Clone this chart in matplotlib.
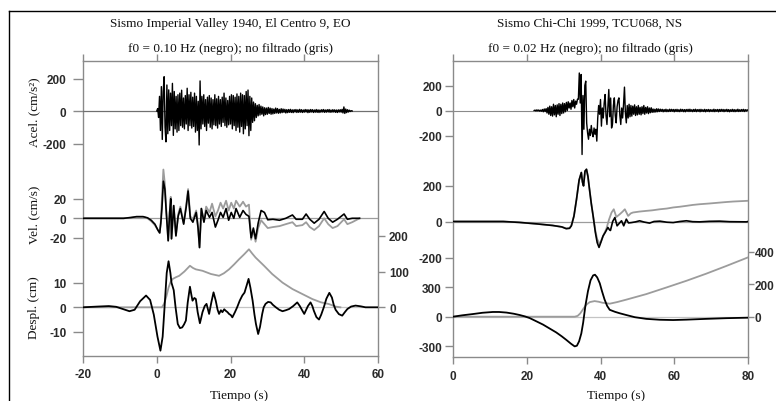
import matplotlib.pyplot as plt
from matplotlib.lines import Line2D
import numpy as np

plt.rcParams['axes.unicode_minus'] = False
plt.rcParams['font.family'] = 'Liberation Sans'

# ---------------- data: Imperial Valley 1940, El Centro 9, EO ----------------
# acceleration (cm/s2), samples every 0.25 s starting at t = 0 s
iv_acc_t0, iv_acc_dt = 0.0, 0.25
iv_acc = [
    0, 15, -40, 90, -120, 150, -175, 120,
    211, -100, -190, 160, -140, 130, -120, 110,
    -90, 170, -150, 120, -110, 90, -130, 100,
    -120, 110, -90, 128, -100, 80, -110, 95,
    -80, 140, -120, 100, -90, 115, -105, 85,
    -95, 110, -130, 90, -120, 60, -209, 185,
    -110, 90, -80, 100, -95, 70, -120, 85,
    -75, 95, -100, 80, -110, 70, -85, 100,
    -90, 75, -105, 90, -80, 70, -95, 85,
    -70, 110, -90, 80, -100, 65, -85, 90,
    -80, 100, -110, 95, -90, 85, -120, 105,
    -100, 90, -130, 110, -95, 100, -140, 95,
    -110, 120, -90, 129, -152, 90, -120, 80,
    -70, 55, -60, 45, -40, 35, -30, 40,
    -25, 30, -20, 25, -30, 20, -22, 18,
    -20, 22, -15, 18, -20, 15, -18, 12,
    -15, 18, -12, 15, -14, 10, -12, 14,
    -10, 12, -8, 10, -12, 8, -10, 9,
    -8, 10, -9, 7, -10, 8, -6, 9,
    -9, 7, -8, 10, -7, 8, -9, 6,
    -7, 9, -6, 8, -10, 7, -8, 9,
    -6, 8, -9, 6, -7, 9, -8, 7,
    -9, 6, -7, 8, -6, 9, -8, 6,
    -7, 8, -6, 9, -8, 6, -7, 8,
    -6, 7, -8, 6, -9, 7, -6, 8,
    -7, 10, -12, 25, -15, 12, -10, 8,
    -6, 5, -3, 2, 0,
]

# velocity (cm/s): filtered (black) and unfiltered (grey)
iv_vel_t = [-20, -9, -7, -5.5, -3.7, -2.5, -1.5, -0.5, 0.3, 0.8, 1.1, 1.4, 1.8,
            2.2, 2.6, 3.1, 3.5, 3.8, 4.0, 4.6, 5.2, 5.8, 6.4, 7.3, 8.0, 8.5,
            9.1, 9.8, 10.7, 11.2, 11.6, 12.1, 12.8, 13.4, 14.3, 15.0, 15.9,
            16.6, 17.3, 18.0, 18.8, 19.5, 20.2, 20.9, 21.5, 22.5, 23.4, 24.2,
            25.0, 25.6, 26.2, 26.8, 27.5, 28.3, 29.2, 30.1, 31.5, 33.3, 35.0,
            36.8, 37.8, 39.5, 40.5, 41.5, 42.7, 44.0, 45.4, 46.5, 47.7, 49.0,
            50.8, 51.7, 53.0, 55.0]
iv_vel_black = [0, 0, 0.8, 1.7, 1.7, 0.5, -2, -6, -12, -15, -5, 10, 38,
                30, 5, -23, 6, 20, -21, 13, -18, 2, 10, -6, 12, 28,
                0, -4, 6, -10, -30, 10, -4, 8, 1, 6, -9,
                -2, 6, 1, 10, -2, 6, 0, 10, 1, 8, 4,
                2, -20, -10, -21, -5, 8, 6, -1.5, -1, -2, 0,
                3.4, -1, -1, 4.4, -1, -5, -1, 7, 0, -4, -1,
                4.4, -1, 0, 0]
iv_vel_grey = [0, 0, 0.7, 1.5, 1.5, 0, -3, -7, -12, -15, -3, 20, 50,
               35, 8, -23, 5, 22, -21, 13, -18, 4, 12, -5, 14, 30,
               2, -1, 8, -8, -30, 10, -3, 12, 6, 15, 2,
               8, 16, 10, 18, 8, 16, 10, 18, 12, 17, 12,
               14, -22, -12, -24, -10, -2, -6, -10, -9, -8, -6,
               -4, -8, -7, -4, -9, -12, -8, 0, -6, -10, -8,
               -1, -6, -4, 0]

# displacement (cm): filtered (black, left scale)
iv_dis_t = [-20, -16, -13, -11, -9, -7.4, -6, -4.5, -2.9, -1.8, -0.8, 0.2, 1.0,
            1.6, 2.2, 2.7, 3.2, 3.7, 4.0, 4.3, 4.6, 5.1, 5.7, 6.3, 6.9, 7.4,
            7.9, 8.4, 9.0, 9.4, 9.7, 10.2, 10.6, 11.1, 11.7, 12.1, 12.4, 13.0,
            13.5, 14.2, 14.8, 15.4, 16.0, 16.5, 16.9, 17.4, 17.8, 18.3, 18.7,
            19.2, 19.6, 20.1, 20.5, 21.2, 21.8, 22.5, 23.2, 23.8, 24.4, 24.9,
            25.4, 26.0, 26.5, 26.9, 27.5, 28.0, 28.6, 29.0, 29.5, 30.2, 30.9,
            31.5, 32.3, 33.2, 34.1, 35.0, 35.9, 37.0, 38.1, 38.8, 39.5, 40.0,
            40.4, 41.0, 41.7, 42.2, 42.6, 43.3, 44.0, 44.6, 45.3, 46.0, 46.8,
            47.5, 48.0, 48.5, 49.4, 50.3, 51.0, 51.7, 52.7, 53.9, 55.3, 56.6,
            60.0]
iv_dis_black = [0, 0.3, 0.5, 0.2, -0.8, -1.6, -1, 2.5, 4.8, 3, -3, -12, -17.7,
                -12, 2, 14, 18.8, 14, 10, 8.5, 7, 0, -6.8, -8.5, -8.2, -7,
                -5.4, 2, 8.4, 5, 2.7, 3.8, 3.4, -2, -6.5, -4, -2, 0.5,
                1.4, -2.7, 2, 6.1, 2.7, -1, -2.7, -1.2, -2, -0.8, -1.4,
                -2, -2.7, -3.2, -4.1, -2, 0, 2.7, 4.8, 6, 9, 11.6,
                8, 2.7, -3, -6.8, -10.9, -8, -2.7, 0, 1.4, 2.2, 2,
                1, 0, -1, -1.6, -1.2, -0.7, 0.5, 2, 0.5, -1.4, -2.7,
                -1.4, 0.5, 2, 0.5, -1.4, -4, -5, -3, 0, 3.5, 5.9,
                4, 1, -1, -2.8, -3.4, -2, -0.7, 0.3, 0.7, 0.4, 0,
                0]
# displacement (cm): unfiltered (grey, right scale)
iv_disg_t = [-20, 1.4, 2.0, 2.6, 3.2, 3.8, 4.3, 5.2, 6.1, 7.5, 9.0, 9.8, 10.6,
             12.4, 14.7, 16.9, 18.2, 19.6, 21.0, 22.3, 23.7, 25.0, 25.9, 26.8,
             29.1, 31.3, 34.1, 36.8, 39.5, 42.2, 44.5, 46.7, 48.5, 49.8]
iv_disg = [0, 0, 10, 30, 55, 72, 79, 84, 88, 100, 116, 110, 106,
           102, 93, 88, 95, 106, 120, 134, 148, 162, 150, 139,
           116, 93, 69, 51, 37, 23, 14, 9, 2, 0]

# ---------------- data: Chi-Chi 1999, TCU068, NS ----------------
# acceleration (cm/s2), samples every 0.25 s starting at t = 22 s
cc_acc_t0, cc_acc_dt = 22.0, 0.25
cc_acc = [
    0, 3, -4, 5, -3, 4, -5, 3,
    -6, 8, -10, 12, -8, 15, -20, 25,
    -30, 35, -40, 30, -45, 50, -35, 40,
    -50, 45, -30, 55, -40, 50, -25, 60,
    -20, 55, -10, 65, 0, 70, 20, 60,
    10, 80, 30, 88, 20, 75, 50, 90,
    90, 300, 60, 288, -352, 120, -150, 200,
    235, -100, -180, -230, -150, -200, -120, -180,
    -210, -140, -190, -150, -245, -60, 40, -30,
    88, -125, 20, -60, 60, 128, -40, -112,
    30, 168, -50, 100, -140, -110, 40, 101,
    -40, -99, 30, 80, 101, -40, -112, 20,
    -60, 50, 187, -20, -99, 40, -60, 50,
    -50, 40, -45, 35, -30, 45, -40, 30,
    -35, 40, -30, 25, -35, 30, -25, 40,
    -30, 25, -20, 30, -25, 20, -18, 22,
    -15, 12, -14, 10, -12, 14, -10, 12,
    -8, 10, -6, 9, -10, 7, -8, 10,
    -9, 6, -8, 10, -7, 9, -6, 8,
    -10, 8, -7, 9, -8, 6, -9, 10,
    -6, 8, -9, 7, -10, 8, -6, 9,
    -8, 10, -7, 6, -9, 8, -7, 10,
    -9, 7, -6, 8, -10, 9, -7, 6,
    -8, 9, -10, 7, -6, 8, -9, 7,
    -7, 6, -8, 10, -9, 7, -6, 8,
    -10, 8, -7, 9, -6, 8, -9, 7,
    -6, 9, -8, 7, -10, 6, -7, 9,
    -8, 7, -9, 6, -7, 10, -8, 6,
    -7, 8, -6, 9, -8, 7, -5, 6,
    0,
]

# velocity (cm/s)
cc_vel_t = [0, 13.6, 18.0, 22.6, 27.0, 29.5, 30.7, 31.6, 32.1, 32.8, 33.5, 34.2,
            34.8, 35.1, 35.4, 35.8, 36.2, 36.6, 36.9, 37.5, 38.0, 38.6, 39.1,
            39.6, 40.2, 40.7, 41.3, 42.0, 42.4, 42.7, 43.3, 43.9, 44.5, 45.1,
            45.7, 46.3, 47.0, 47.6, 48.4, 49.5, 50.6, 51.8, 53.3, 54.5, 56.1,
            58.0, 59.7, 61.5, 63.3, 65.0, 66.9, 69.5, 72.3, 75.0, 79.6, 80.0]
cc_vel_black = [0, 0, -5, -13, -22, -30, -40, -38, -24, 30, 124, 230,
                272, 220, 198, 280, 290, 250, 198, 100, 31, -60, -117,
                -144, -110, -80, -60, -33, -45, -50, 0, 22, -24, -10,
                4, -24, 13, -8, -6, -2, 4, -3, -9, 0, 2,
                -4, -6, 0, 4, -1, -2, 1, 2, -1, -2, 0]
cc_vel_grey_t = [0, 13.6, 18.0, 22.6, 27.0, 29.5, 30.7, 31.6, 32.1, 32.8, 33.5,
                 34.2, 34.8, 35.1, 35.4, 35.8, 36.2, 36.6, 36.9, 37.5, 38.0,
                 38.6, 39.1, 39.8, 40.5, 41.6, 42.3, 43.0, 43.6, 44.3, 45.2,
                 46.0, 46.6, 47.5, 48.2, 48.8, 50.5, 52.4, 54.0, 56.1, 58.0,
                 59.7, 61.5, 63.3, 65.0, 66.9, 69.5, 72.3, 74.0, 76.0, 78.0,
                 80.0]
cc_vel_grey = [0, 0, -5, -13, -22, -30, -38, -36, -22, 30, 124,
               230, 272, 220, 198, 280, 290, 250, 198, 100, 31,
               -50, -98, -126, -90, -40, 10, 50, 68, 25, 40,
               55, 68, 31, 45, 50, 55, 59, 62, 68, 72,
               78, 82, 87, 92, 96, 100, 105, 108, 111, 113,
               115]

# displacement (cm): filtered (black, left scale)
cc_dis_t = [0, 2.5, 5.4, 8.0, 10.8, 12.5, 14.5, 16.5, 18.1, 19.5, 20.8, 22.5,
            24.4, 26.2, 28.0, 29.5, 30.7, 32.0, 33.0, 33.6, 34.2, 34.8, 35.3,
            35.9, 36.6, 37.3, 38.0, 38.5, 39.1, 39.8, 40.4, 41.1, 41.8, 42.5,
            43.2, 43.9, 45.2, 47.0, 49.3, 52.4, 56.1, 59.7, 63.3, 68.7, 74.1,
            80.0]
cc_dis_black = [0, 14, 27, 40, 48, 48, 42, 30, 17, 3, -14, -45,
                -80, -120, -160, -200, -235, -275, -302, -295, -250, -170, -60,
                110, 260, 370, 420, 427, 400, 340, 260, 175, 110, 70,
                60, 50, 35, 17, -5, -22, -31, -34, -30, -22, -15,
                -10]
# displacement (cm): unfiltered (grey, right scale)
cc_disg_t = [0, 33.0, 33.8, 34.5, 35.3, 36.2, 37.1, 38.4, 39.5, 40.5, 42.5, 44.5,
             47.0, 52.4, 57.9, 63.3, 68.7, 74.1, 80.0]
cc_disg = [0, 0, 5, 20, 47, 75, 90, 96, 92, 86, 80, 90,
           105, 139, 180, 221, 265, 312, 365]

# ---------------- layout ----------------
W, H = 776, 402
SPINE = '#8a8a8a'
GREY = '#9c9c9c'
LABC = '#2a2a2a'
SERIF = 'Liberation Serif'

fig = plt.figure(figsize=(W / 100, H / 100), dpi=100)


def add_box(box):
    x0, x1, ytop, ybot = box
    return fig.add_axes([x0 / W, 1 - ybot / H, (x1 - x0) / W, (ybot - ytop) / H])


def frame(box, xlim, xticks):
    ax = add_box(box)
    ax.set_xlim(xlim)
    ax.set_xticks(xticks)
    ax.set_yticks([])
    for s in ax.spines.values():
        s.set_color(SPINE)
        s.set_linewidth(1.0)
    ax.tick_params(axis='x', top=True, direction='out', length=5, width=1,
                   color=SPINE, pad=4, labelsize=8.5, labelcolor=LABC)
    for lab in ax.get_xticklabels():
        lab.set_fontweight('bold')
    return ax


def trace_axes(box, xlim, zero_px, per_px, yticks, side='left', length=5, pad=3):
    x0, x1, ytop, ybot = box
    ax = add_box(box)
    ax.set_xlim(xlim)
    ax.set_ylim(-(ybot - zero_px) * per_px, (zero_px - ytop) * per_px)
    ax.patch.set_visible(False)
    for s in ax.spines.values():
        s.set_visible(False)
    ax.set_xticks([])
    ax.set_yticks(yticks)
    if side == 'right':
        ax.yaxis.tick_right()
    ax.tick_params(axis='y', direction='out', length=length, width=1, color=SPINE,
                   pad=pad, labelsize=8.5, labelcolor=LABC)
    for lab in ax.get_yticklabels():
        lab.set_fontweight('bold')
    return ax


# ---- left panel ----
LB = (83, 378, 62, 357)
frame(LB, (-20, 60), [-20, 0, 20, 40, 60])

ax = trace_axes(LB, (-20, 60), 112, 200 / 32.5, [-200, 0, 200], length=7, pad=5)
ax.axhline(0, color='#707070', lw=0.9)
t = iv_acc_t0 + iv_acc_dt * np.arange(len(iv_acc))
ax.plot(t, iv_acc, color='black', lw=1.0)

ax = trace_axes(LB, (-20, 60), 219.3, 20 / 19.5, [-20, 0, 20], length=7, pad=5)
ax.axhline(0, color=GREY, lw=0.9)
ax.plot(iv_vel_t, iv_vel_grey, color=GREY, lw=1.3)
ax.plot(iv_vel_t, iv_vel_black, color='black', lw=1.2)

ax = trace_axes(LB, (-20, 60), 308.3, 100 / 35.8, [0, 100, 200], side='right', length=5, pad=3)
ax.axhline(0, color='#c4c4c4', lw=0.9)
ax.plot(iv_disg_t, iv_disg, color=GREY, lw=1.3)

ax = trace_axes(LB, (-20, 60), 308.3, 10 / 24.5, [-10, 0, 10], length=7, pad=5)
ax.plot(iv_dis_t, iv_dis_black, color='black', lw=1.3)

# ---- right panel ----
RB = (453, 748, 62, 358)
frame(RB, (0, 80), [0, 20, 40, 60, 80])

ax = trace_axes(RB, (0, 80), 111.5, 200 / 25.0, [-200, 0, 200], length=6, pad=2)
ax.axhline(0, color='#8a8a8a', lw=0.8)
t = cc_acc_t0 + cc_acc_dt * np.arange(len(cc_acc))
ax.plot(t, cc_acc, color='black', lw=1.0)

ax = trace_axes(RB, (0, 80), 222.5, 200 / 36.0, [-200, 0, 200], length=6, pad=2)
ax.axhline(0, color=GREY, lw=0.9)
ax.plot(cc_vel_grey_t, cc_vel_grey, color=GREY, lw=1.3)
ax.plot(cc_vel_t, cc_vel_black, color='black', lw=1.2)

ax = trace_axes(RB, (0, 80), 317.7, 200 / 32.5, [0, 200, 400], side='right', length=4, pad=1)
ax.axhline(0, color='#c4c4c4', lw=0.9)
ax.plot(cc_disg_t, cc_disg, color=GREY, lw=1.3)

ax = trace_axes(RB, (0, 80), 317.7, 300 / 29.5, [-300, 0, 300], length=6, pad=2)
ax.plot(cc_dis_t, cc_dis_black, color='black', lw=1.3)

# ---- texts ----
def ftext(x, y, s, **kw):
    fig.text(x / W, 1 - y / H, s, ha='center', va='center', family=SERIF,
             fontsize=9.5, color='#111111', **kw)

ftext(230, 24, 'Sismo Imperial Valley 1940, El Centro 9, EO')
ftext(230, 49, 'f0 = 0.10 Hz (negro); no filtrado (gris)')
ftext(590, 24, 'Sismo Chi-Chi 1999, TCU068, NS')
ftext(590, 49, 'f0 = 0.02 Hz (negro); no filtrado (gris)')
ftext(34, 112, 'Acel. (cm/s²)', rotation=90)
ftext(34, 215, 'Vel. (cm/s)', rotation=90)
ftext(34, 308, 'Despl. (cm)', rotation=90)
ftext(239, 396, 'Tiempo (s)')
ftext(616, 396, 'Tiempo (s)')

# outer border of the figure
fig.add_artist(Line2D([9 / W, 9 / W], [0, 1 - 12 / H], color='black', lw=1.0))
fig.add_artist(Line2D([9 / W, 1], [1 - 12 / H, 1 - 12 / H], color='black', lw=1.0))

fig.savefig('out.png', dpi=100)
